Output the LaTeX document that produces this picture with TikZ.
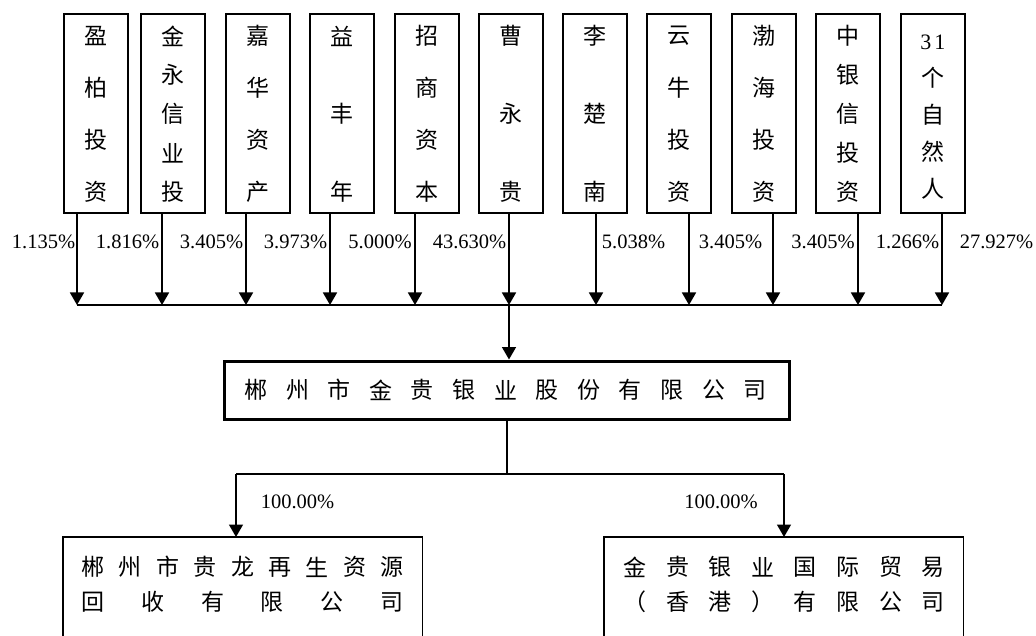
\documentclass[tikz,border=0pt]{standalone}
\usepackage{fontspec}
\setmainfont{Liberation Serif}
\newfontfamily\cjk{Noto Sans CJK SC}
\usetikzlibrary{arrows.meta}
\newcommand\vchars[3]{\foreach \c [count=\k from 0] in {#3} {\path (#1.north) ++(0,{23+\k*156/(#2-1)}) node[ch] {\c};}}
\newcommand\hchars[4]{\foreach \c [count=\k from 0] in {#4} {\node[ch] at ({#2+\k*#3},#1) {\c};}}
\begin{document}
\begin{tikzpicture}[x=1pt,y=-1pt,
  box/.style={draw, line width=1.6pt, minimum width=64pt, minimum height=199pt, anchor=north west, inner sep=0pt},
  arr/.style={line width=1.6pt, -{Triangle[width=14pt,length=12.5pt]}},
  ln/.style={line width=1.6pt},
  pct/.style={font=\fontsize{20.5}{24}\selectfont, inner sep=0pt},
  ch/.style={font=\cjk\fontsize{23}{26}\selectfont, inner sep=0pt}]
\useasboundingbox (0,0) rectangle (1036,636);
% top boxes
\node[box] (t1) at (63,13) {};
\node[box] (t2) at (140,13) {};
\node[box] (t3) at (225,13) {};
\node[box] (t4) at (309,13) {};
\node[box] (t5) at (394,13) {};
\node[box] (t6) at (478,13) {};
\node[box] (t7) at (562,13) {};
\node[box] (t8) at (646,13) {};
\node[box] (t9) at (731,13) {};
\node[box] (t10) at (815,13) {};
\node[box] (t11) at (900,13) {};
\vchars{t1}{4}{盈,柏,投,资}
\vchars{t2}{5}{金,永,信,业,投}
\vchars{t3}{4}{嘉,华,资,产}
\vchars{t4}{3}{益,丰,年}
\vchars{t5}{4}{招,商,资,本}
\vchars{t6}{3}{曹,永,贵}
\vchars{t7}{3}{李,楚,南}
\vchars{t8}{4}{云,牛,投,资}
\vchars{t9}{4}{渤,海,投,资}
\vchars{t10}{5}{中,银,信,投,资}
\foreach \c [count=\k from 0] in {个,自,然,人} {\path (t11.north) ++(0,{65+\k*37}) node[ch] {\c};}
\path (t11.north) ++(0,29) node[pct, font=\fontsize{22}{24}\selectfont] (n31) {3\hspace{3pt}1};
% bus
\coordinate (bus1) at (77,305);
\coordinate (bus2) at (162,305);
\coordinate (bus3) at (246,305);
\coordinate (bus4) at (330,305);
\coordinate (bus5) at (415,305);
\coordinate (bus6) at (509,305);
\coordinate (bus7) at (596,305);
\coordinate (bus8) at (689,305);
\coordinate (bus9) at (773,305);
\coordinate (bus10) at (858,305);
\coordinate (bus11) at (942,305);
\foreach \i in {1,...,11} {\draw[arr] (bus\i |- t\i.south) -- (bus\i);}
\draw[ln] (bus1) -- (bus11);
% percentages
\node[pct] (p1) at (43.5,242) {1.135\%};
\node[pct] (p2) at (127.5,242) {1.816\%};
\node[pct] (p3) at (211.5,242) {3.405\%};
\node[pct] (p4) at (295.5,242) {3.973\%};
\node[pct] (p5) at (380,242) {5.000\%};
\node[pct] (p6) at (469.5,242) {43.630\%};
\node[pct] (p7) at (633.5,242) {5.038\%};
\node[pct] (p8) at (730.5,242) {3.405\%};
\node[pct] (p9) at (823,242) {3.405\%};
\node[pct] (p10) at (907.5,242) {1.266\%};
\node[pct] (p11) at (996.5,242) {27.927\%};
% main box
\node[draw, line width=3pt, minimum width=565pt, minimum height=58pt, inner sep=0pt] (m) at (506.5,390) {};
\hchars{390}{256}{41.6}{郴,州,市,金,贵,银,业,股,份,有,限,公,司}
\coordinate (j) at (509,305);
\draw[arr] (j) -- (j |- m.north);
% lower connectors
\node[minimum width=359pt, minimum height=99pt, anchor=north west, inner sep=0pt] (l) at (63,537) {};
\node[minimum width=359pt, minimum height=99pt, anchor=north west, inner sep=0pt] (r) at (604,537) {};
\draw[ln] (l.south west) |- (l.north east) -- (l.south east);
\draw[ln] (r.south west) |- (r.north east) -- (r.south east);
\coordinate (k) at (507,474);
\coordinate (kl) at (236,474);
\coordinate (kr) at (784,474);
\draw[ln] (k |- m.south) -- (k);
\draw[ln] (kl) -- (kr);
\draw[arr] (kl) -- (kl |- l.north);
\draw[arr] (kr) -- (kr |- r.north);
\node[pct] (q1) at (297.5,502) {100.00\%};
\node[pct] (q2) at (721,502) {100.00\%};
\hchars{567}{93}{37.4}{郴,州,市,贵,龙,再,生,资,源}
\hchars{602}{93}{59.8}{回,收,有,限,公,司}
\hchars{567}{635}{42.6}{金,贵,银,业,国,际,贸,易}
\hchars{602}{635}{42.6}{（,香,港,）,有,限,公,司}
\end{tikzpicture}
\end{document}
